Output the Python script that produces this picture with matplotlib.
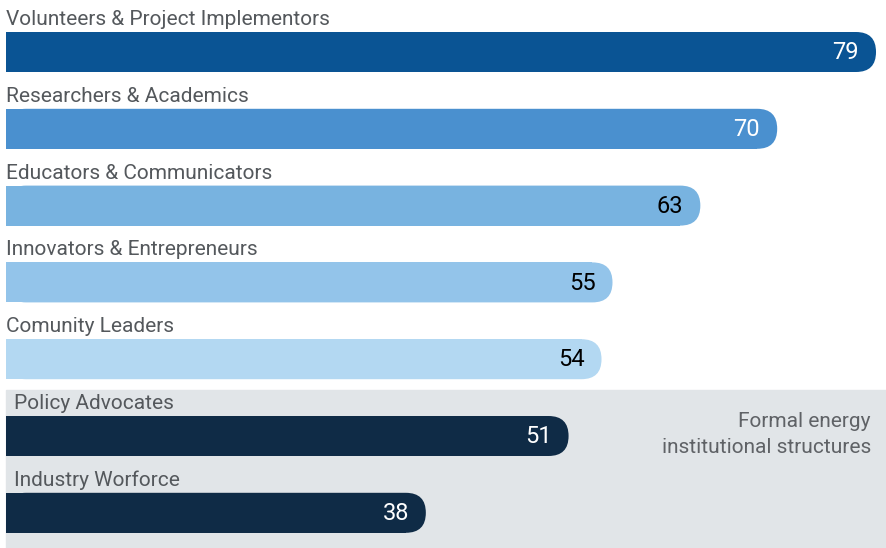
import matplotlib.pyplot as plt
from matplotlib.patches import FancyBboxPatch

plt.rcParams['font.family'] = ['Roboto', 'DejaVu Sans']

categories = ['Volunteers & Project Implementors', 'Researchers & Academics',
              'Educators & Communicators', 'Innovators & Entrepreneurs',
              'Comunity Leaders', 'Policy Advocates', 'Industry Worforce']
values = [79, 70, 63, 55, 54, 51, 38]
bar_colors = ['#0a5494', '#4a90cf', '#78b3e0', '#93c4ea', '#b3d8f2', '#0f2b46', '#0f2b46']
value_colors = ['white', 'white', 'black', 'black', 'black', 'white', 'white']
formal = [False, False, False, False, False, True, True]
note_lines = ['Formal energy', 'institutional structures']

W, H = 887, 548
fig = plt.figure(figsize=(W / 100, H / 100), dpi=100)
ax = fig.add_axes([0, 0, 1, 1])

# pixel <-> data scale
px_per_x = 10.98
x0_px = 8.6
px_per_row = 76.8
row0_px = 52
ax.set_xlim(-x0_px / px_per_x, (W - x0_px) / px_per_x)
ax.set_ylim((H - row0_px) / px_per_row, -row0_px / px_per_row)
ax.axis('off')

bar_h = 40 / px_per_row
r = 20 / px_per_x
aspect = (1 / px_per_row) / (1 / px_per_x)
left = -2.6 / px_per_x

# gray block behind formal structures
ax.axhspan((390 - row0_px) / px_per_row, (H - row0_px) / px_per_row,
           xmin=6 / W, xmax=1, color='#e1e5e8', zorder=0)

for i, (cat, v) in enumerate(zip(categories, values)):
    ax.barh(i, v - r - left, left=left, height=bar_h, color=bar_colors[i], zorder=2)
    box = FancyBboxPatch((left, i - bar_h / 2), v - left, bar_h,
                         boxstyle=f'round,pad=0,rounding_size={r}',
                         mutation_aspect=aspect, fc=bar_colors[i], ec='none', zorder=2)
    ax.add_patch(box)
    lx = (14 if formal[i] else 6) / px_per_x - x0_px / px_per_x
    ax.text(lx, i - 27 / px_per_row, cat, fontsize=15, color='#54585c',
            va='baseline', ha='left', zorder=3)
    ax.text(v - 17 / px_per_x, i + 0.01, str(v), fontsize=17, color=value_colors[i],
            va='center', ha='right', zorder=3)

for k, line in enumerate(note_lines):
    ax.text((871 - x0_px) / px_per_x, (427 + 26 * k - row0_px) / px_per_row, line,
            fontsize=15, color='#5f6266', ha='right', va='baseline', zorder=3)

fig.savefig('out.png', dpi=100)
